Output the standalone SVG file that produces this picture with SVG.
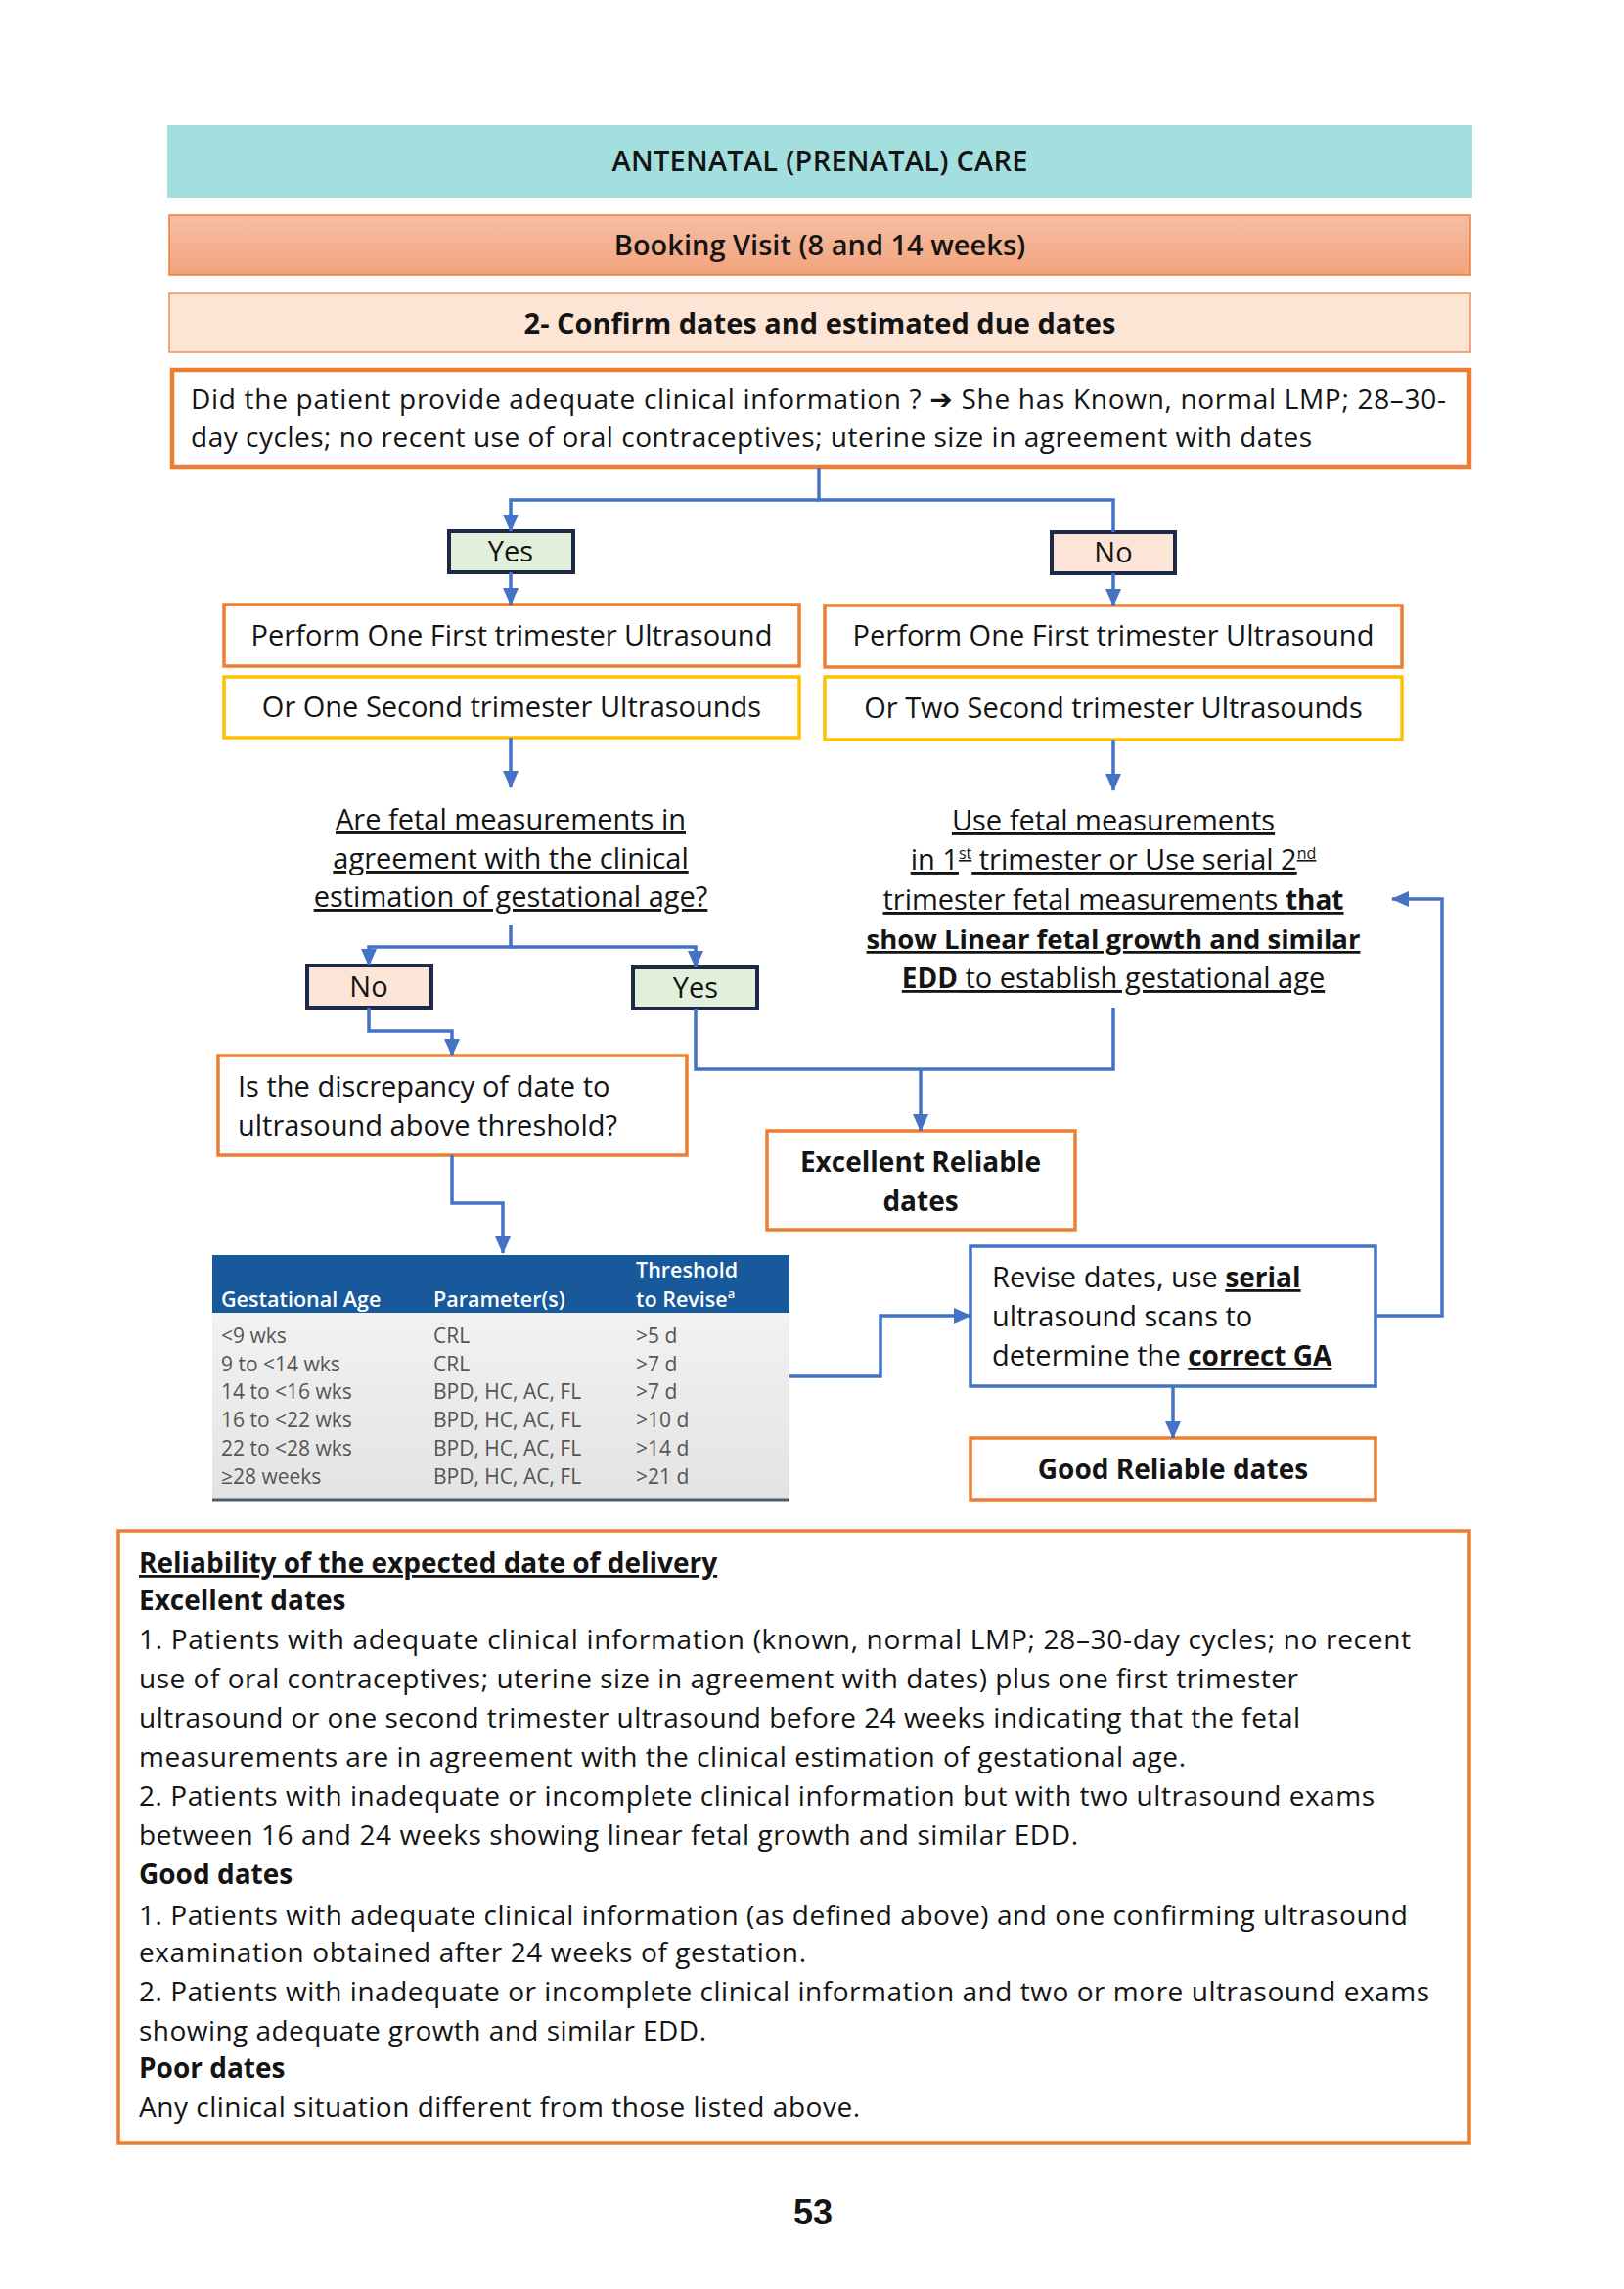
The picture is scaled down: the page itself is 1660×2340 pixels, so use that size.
<svg xmlns="http://www.w3.org/2000/svg" width="1660" height="2340" viewBox="0 0 1660 2340">
<defs>
<linearGradient id="gBook" x1="0" y1="0" x2="0" y2="1">
<stop offset="0" stop-color="#f6c0a4"/>
<stop offset="1" stop-color="#f2a27c"/>
</linearGradient>
<linearGradient id="gTable" x1="0" y1="0" x2="0" y2="1">
<stop offset="0" stop-color="#f2f2f2"/>
<stop offset="1" stop-color="#e3e3e3"/>
</linearGradient>
<marker id="ah" markerUnits="userSpaceOnUse" markerWidth="18" markerHeight="18" viewBox="0 0 18 18" refX="17" refY="9" orient="auto">
<path d="M0,1 L18,9 L0,17 z" fill="#4472c4"/>
</marker>
<style>
text{font-family:"Open Sans","Noto Sans","Liberation Sans",sans-serif;font-size:29px;fill:#141414}
.c{text-anchor:middle}
.b{font-weight:700;font-size:28px}
.sb{font-weight:600}
.u{text-decoration:underline}
.or{fill:#fff;stroke:#ed7d31;stroke-width:3.5}
.gd{fill:#fff;stroke:#ffc000;stroke-width:3.5}
.bl{fill:#fff;stroke:#4472c4;stroke-width:3.5}
.yes{fill:#e2efda;stroke:#1c2a48;stroke-width:4}
.no{fill:#fce4d6;stroke:#1c2a48;stroke-width:4}
.con{fill:none;stroke:#4472c4;stroke-width:3.5}
.arr{marker-end:url(#ah)}
.th{font-size:21.5px;fill:#fff;font-weight:600}
.td{font-size:21px;fill:#555}
.body{font-size:28px}
</style>
</defs>
<rect width="1660" height="2340" fill="#fff"/>

<g id="title">
<rect x="171" y="128" width="1334" height="74" fill="#a3dfdf"/>
<text x="838" y="175" class="c sb" font-size="28" textLength="425" lengthAdjust="spacing">ANTENATAL (PRENATAL) CARE</text>
</g>
<g id="booking">
<rect x="173" y="220" width="1330" height="61" fill="url(#gBook)" stroke="#ed7d31" stroke-width="1.5"/>
<text x="838" y="261" class="c sb">Booking Visit (8 and 14 weeks)</text>
</g>
<g id="confirm">
<rect x="173" y="300" width="1330" height="60" fill="#fde5d6" stroke="#ee8f5c" stroke-width="1.5"/>
<text x="838" y="341" class="c b" style="font-size:29px">2- Confirm dates and estimated due dates</text>
</g>
<g id="question">
<rect x="176" y="378" width="1326" height="99" fill="#fff" stroke="#ed7d31" stroke-width="4.5"/>
<text x="195" y="418" class="body" textLength="1283" lengthAdjust="spacing">Did the patient provide adequate clinical information ? <tspan font-family="DejaVu Sans" font-weight="700">➔</tspan> She has Known, normal LMP; 28–30-</text>
<text x="195" y="457" class="body" textLength="1146" lengthAdjust="spacing">day cycles; no recent use of oral contraceptives; uterine size in agreement with dates</text>
</g>

<g id="yes1">
<rect x="459" y="543" width="127" height="42" class="yes"/>
<text x="522" y="574" class="c">Yes</text>
</g>
<g id="no1">
<rect x="1075" y="544" width="126" height="42" class="no"/>
<text x="1138" y="575" class="c">No</text>
</g>

<g id="left-first">
<rect x="229" y="618" width="588" height="63" class="or"/>
<text x="523" y="660" class="c">Perform One First trimester Ultrasound</text>
</g>
<g id="left-second">
<rect x="229" y="692" width="588" height="62" class="gd"/>
<text x="523" y="733" class="c">Or One Second trimester Ultrasounds</text>
</g>
<g id="right-first">
<rect x="843" y="619" width="590" height="63" class="or"/>
<text x="1138" y="660" class="c">Perform One First trimester Ultrasound</text>
</g>
<g id="right-second">
<rect x="843" y="692" width="590" height="64" class="gd"/>
<text x="1138" y="734" class="c">Or Two Second trimester Ultrasounds</text>
</g>

<g id="agree-question">
<text x="522" y="848" class="c u">Are fetal measurements in</text>
<text x="522" y="888" class="c u">agreement with the clinical</text>
<text x="522" y="927" class="c u">estimation of gestational age?</text>
</g>

<g id="use-fetal">
<text x="1138" y="849" class="c u">Use fetal measurements</text>
<text x="1138" y="889" class="c u">in 1<tspan font-size="16" baseline-shift="super">st</tspan> trimester or Use serial 2<tspan font-size="16" baseline-shift="super">nd</tspan></text>
<text x="1138" y="930" class="c u">trimester fetal measurements <tspan class="b">that</tspan></text>
<text x="1138" y="970" class="c u b" style="font-size:27.5px">show Linear fetal growth and similar</text>
<text x="1138" y="1010" class="c u"><tspan class="b">EDD</tspan> to establish gestational age</text>
</g>

<g id="no2">
<rect x="314" y="987" width="127" height="43" class="no"/>
<text x="377" y="1019" class="c">No</text>
</g>
<g id="yes2">
<rect x="647" y="989" width="127" height="42" class="yes"/>
<text x="711" y="1020" class="c">Yes</text>
</g>

<g id="discrepancy">
<rect x="223" y="1079" width="479" height="102" class="or"/>
<text x="243" y="1121">Is the discrepancy of date to</text>
<text x="243" y="1161">ultrasound above threshold?</text>
</g>

<g id="excellent">
<rect x="784" y="1156" width="315" height="101" class="or"/>
<text x="941" y="1198" class="c b">Excellent Reliable</text>
<text x="941" y="1238" class="c b">dates</text>
</g>

<g id="threshold-table">
<rect x="217" y="1283" width="590" height="59" fill="#18599b"/>
<rect x="217" y="1342" width="590" height="190" fill="url(#gTable)"/>
<line x1="217" y1="1533" x2="807" y2="1533" stroke="#4e5d6c" stroke-width="3"/>
<text x="226" y="1336" class="th">Gestational Age</text>
<text x="443" y="1336" class="th">Parameter(s)</text>
<text x="650" y="1306" class="th">Threshold</text>
<text x="650" y="1336" class="th">to Revise<tspan font-size="13" baseline-shift="super">a</tspan></text>
<text x="226" y="1373" class="td">&lt;9 wks</text>
<text x="226" y="1402" class="td">9 to &lt;14 wks</text>
<text x="226" y="1430" class="td">14 to &lt;16 wks</text>
<text x="226" y="1459" class="td">16 to &lt;22 wks</text>
<text x="226" y="1488" class="td">22 to &lt;28 wks</text>
<text x="226" y="1517" class="td">≥28 weeks</text>
<text x="443" y="1373" class="td">CRL</text>
<text x="443" y="1402" class="td">CRL</text>
<text x="443" y="1430" class="td">BPD, HC, AC, FL</text>
<text x="443" y="1459" class="td">BPD, HC, AC, FL</text>
<text x="443" y="1488" class="td">BPD, HC, AC, FL</text>
<text x="443" y="1517" class="td">BPD, HC, AC, FL</text>
<text x="650" y="1373" class="td">&gt;5 d</text>
<text x="650" y="1402" class="td">&gt;7 d</text>
<text x="650" y="1430" class="td">&gt;7 d</text>
<text x="650" y="1459" class="td">&gt;10 d</text>
<text x="650" y="1488" class="td">&gt;14 d</text>
<text x="650" y="1517" class="td">&gt;21 d</text>
</g>

<g id="revise">
<rect x="992" y="1274" width="414" height="143" class="bl"/>
<text x="1014" y="1316">Revise dates, use <tspan class="b u">serial</tspan></text>
<text x="1014" y="1356">ultrasound scans to</text>
<text x="1014" y="1396">determine the <tspan class="b u">correct GA</tspan></text>
</g>

<g id="good">
<rect x="992" y="1470" width="414" height="63" class="or"/>
<text x="1199" y="1512" class="c b">Good Reliable dates</text>
</g>

<g id="reliability-box">
<rect x="121" y="1565" width="1381" height="626" class="or"/>
<text x="142" y="1608" class="b u">Reliability of the expected date of delivery</text>
<text x="142" y="1646" class="b">Excellent dates</text>
<text x="142" y="1686" class="body" textLength="1300" lengthAdjust="spacing">1. Patients with adequate clinical information (known, normal LMP; 28–30-day cycles; no recent</text>
<text x="142" y="1726" class="body" textLength="1185" lengthAdjust="spacing">use of oral contraceptives; uterine size in agreement with dates) plus one first trimester</text>
<text x="142" y="1766" class="body" textLength="1187" lengthAdjust="spacing">ultrasound or one second trimester ultrasound before 24 weeks indicating that the fetal</text>
<text x="142" y="1806" class="body" textLength="1070" lengthAdjust="spacing">measurements are in agreement with the clinical estimation of gestational age.</text>
<text x="142" y="1846" class="body" textLength="1263" lengthAdjust="spacing">2. Patients with inadequate or incomplete clinical information but with two ultrasound exams</text>
<text x="142" y="1886" class="body" textLength="960" lengthAdjust="spacing">between 16 and 24 weeks showing linear fetal growth and similar EDD.</text>
<text x="142" y="1926" class="b">Good dates</text>
<text x="142" y="1968" class="body" textLength="1297" lengthAdjust="spacing">1. Patients with adequate clinical information (as defined above) and one confirming ultrasound</text>
<text x="142" y="2006" class="body" textLength="682" lengthAdjust="spacing">examination obtained after 24 weeks of gestation.</text>
<text x="142" y="2046" class="body" textLength="1319" lengthAdjust="spacing">2. Patients with inadequate or incomplete clinical information and two or more ultrasound exams</text>
<text x="142" y="2086" class="body" textLength="580" lengthAdjust="spacing">showing adequate growth and similar EDD.</text>
<text x="142" y="2124" class="b">Poor dates</text>
<text x="142" y="2164" class="body" textLength="737" lengthAdjust="spacing">Any clinical situation different from those listed above.</text>
</g>

<g id="page-number">
<text x="831" y="2274" class="c" style="font-family:'Liberation Sans',Arial,sans-serif;font-size:36px;font-weight:700">53</text>
</g>

<g id="connectors">
<path class="con" d="M837,478 V511 H1138 V544"/>
<path class="con arr" d="M837,511 H522 V543"/>
<path class="con arr" d="M522,585 V618"/>
<path class="con arr" d="M1138,586 V619"/>
<path class="con arr" d="M522,754 V805"/>
<path class="con arr" d="M1138,756 V808"/>
<path class="con arr" d="M522,946 V968 H377 V987"/>
<path class="con arr" d="M522,968 H711 V989"/>
<path class="con arr" d="M377,1030 V1054 H462 V1079"/>
<path class="con arr" d="M462,1181 V1230 H514 V1281"/>
<path class="con" d="M711,1031 V1093 H1138 V1030"/>
<path class="con arr" d="M941,1093 V1156"/>
<path class="con arr" d="M807,1407 H900 V1345 H992"/>
<path class="con arr" d="M1406,1345 H1474 V919 H1423"/>
<path class="con arr" d="M1199,1417 V1470"/>
</g>
</svg>
